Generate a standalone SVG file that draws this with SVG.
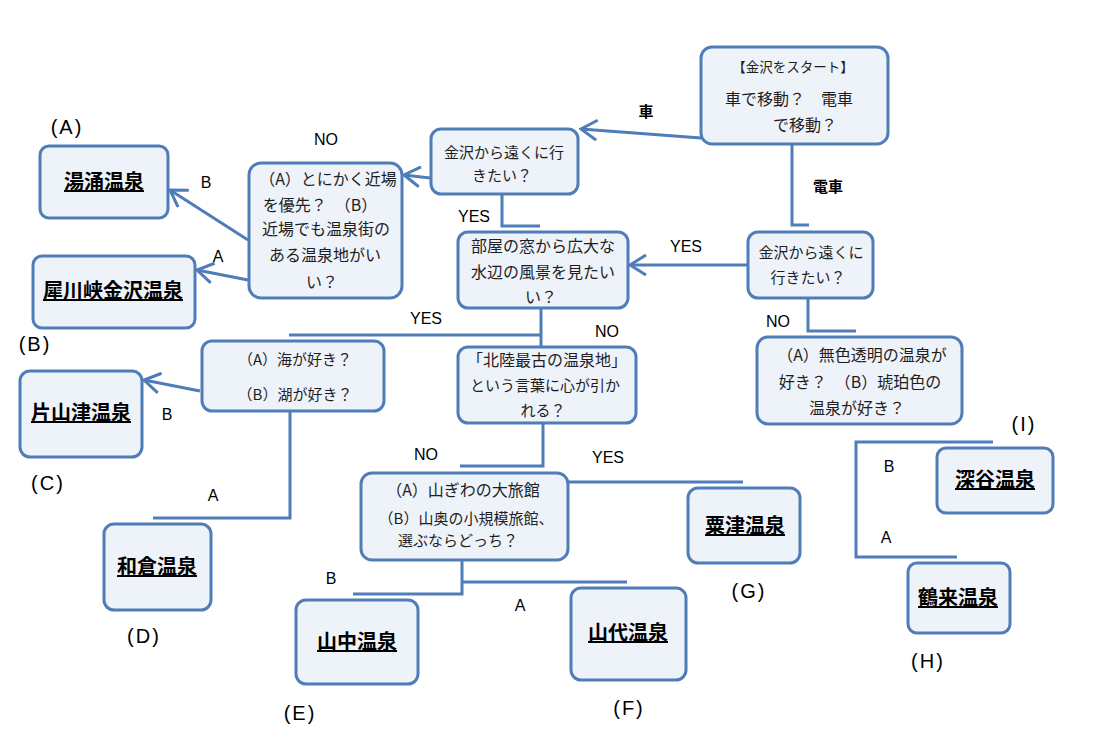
<svg xmlns="http://www.w3.org/2000/svg" width="1100" height="742" viewBox="0 0 1100 742">
<style>
.box{fill:#EEF2F9;stroke:#4F7DB8;stroke-width:3}
.ln{fill:none;stroke:#4F7DB8;stroke-width:3}
.q{font-family:"Noto Sans CJK JP","Noto Sans",sans-serif;font-size:15px;fill:#1e1e1e;text-anchor:middle}
.q16{font-size:16px}
.r{font-family:"Noto Sans CJK JP","Noto Sans",sans-serif;font-size:20px;font-weight:bold;fill:#000;text-anchor:middle;text-decoration:underline}
.lb{font-family:"Liberation Sans",Arial,sans-serif;font-size:16px;fill:#000;text-anchor:middle}
.lbj{font-family:"Noto Sans CJK JP",sans-serif;font-size:15px;font-weight:bold;fill:#000;text-anchor:middle}
.tag{font-family:"Liberation Sans",Arial,sans-serif;font-size:20px;fill:#000;text-anchor:middle;letter-spacing:2px}
</style>
<defs>
<marker id="arr" viewBox="0 0 22 22" refX="20" refY="11" markerWidth="22" markerHeight="22" markerUnits="userSpaceOnUse" orient="auto">
<path d="M4,1 L20,11 L4,21" fill="none" stroke="#4F7DB8" stroke-width="3"/>
</marker>
</defs>
<rect width="1100" height="742" fill="#fff"/>

<g id="start">
<rect class="box" x="701" y="47" width="187" height="97" rx="11"/>
<text class="q" x="793" y="72" style="font-size:13.5px">【金沢をスタート】</text>
<text class="q q16" x="789" y="105">車で移動？　電車</text>
<text class="q q16" x="805" y="131">で移動？</text>
</g>

<g id="q-car">
<rect class="box" x="431" y="129" width="147" height="65" rx="10"/>
<text class="q" x="504" y="158">金沢から遠くに行</text>
<text class="q" x="502" y="181">きたい？</text>
</g>

<g id="q-train">
<rect class="box" x="748" y="232" width="125" height="66" rx="10"/>
<text class="q" x="811" y="258">金沢から遠くに</text>
<text class="q" x="808" y="283">行きたい？</text>
</g>

<g id="q-near">
<rect class="box" x="249" y="163" width="153" height="135" rx="12"/>
<text class="q q16" x="328" y="185">（A）とにかく近場</text>
<text class="q q16" x="320" y="211">を優先？　（B）</text>
<text class="q q16" x="326" y="235">近場でも温泉街の</text>
<text class="q q16" x="325" y="261">ある温泉地がい</text>
<text class="q q16" x="322" y="288">い？</text>
</g>

<g id="q-water">
<rect class="box" x="458" y="232" width="170" height="76" rx="10"/>
<text class="q q16" x="543" y="252">部屋の窓から広大な</text>
<text class="q q16" x="543" y="278">水辺の風景を見たい</text>
<text class="q q16" x="541" y="303">い？</text>
</g>

<g id="q-sea">
<rect class="box" x="202" y="341" width="182" height="70" rx="10"/>
<text class="q" x="295" y="365">（A）海が好き？</text>
<text class="q" x="295" y="400">（B）湖が好き？</text>
</g>

<g id="q-oldest">
<rect class="box" x="458" y="347" width="178" height="76" rx="10"/>
<text class="q q16" x="547" y="366">「北陸最古の温泉地」</text>
<text class="q" x="545" y="391">という言葉に心が引か</text>
<text class="q" x="543" y="416">れる？</text>
</g>

<g id="q-ryokan">
<rect class="box" x="361" y="473" width="207" height="87" rx="11"/>
<text class="q q16" x="463" y="496">（A）山ぎわの大旅館</text>
<text class="q" x="466" y="524">（B）山奥の小規模旅館、</text>
<text class="q" x="458" y="546">選ぶならどっち？</text>
</g>

<g id="q-color">
<rect class="box" x="757" y="337" width="205" height="87" rx="11"/>
<text class="q q16" x="862" y="361">（A）無色透明の温泉が</text>
<text class="q q16" x="860" y="388">好き？　（B）琥珀色の</text>
<text class="q q16" x="857" y="414">温泉が好き？</text>
</g>

<g id="yuwaku">
<rect class="box" x="40" y="146" width="128" height="72" rx="9"/>
<text class="r" x="104" y="189">湯涌温泉</text>
<text class="tag" x="67" y="134">(A)</text>
</g>

<g id="saigawa">
<rect class="box" x="33" y="256" width="162" height="72" rx="9"/>
<text class="r" x="113" y="298">犀川峡金沢温泉</text>
<text class="tag" x="35" y="351">(B)</text>
</g>

<g id="katayamazu">
<rect class="box" x="20" y="371" width="122" height="86" rx="10"/>
<text class="r" x="81" y="420">片山津温泉</text>
<text class="tag" x="48" y="490">(C)</text>
</g>

<g id="wakura">
<rect class="box" x="104" y="524" width="107" height="86" rx="10"/>
<text class="r" x="157" y="574">和倉温泉</text>
<text class="tag" x="144" y="643">(D)</text>
</g>

<g id="yamanaka">
<rect class="box" x="296" y="600" width="122" height="84" rx="10"/>
<text class="r" x="357" y="649">山中温泉</text>
<text class="tag" x="300" y="720">(E)</text>
</g>

<g id="yamashiro">
<rect class="box" x="571" y="588" width="115" height="92" rx="10"/>
<text class="r" x="628" y="640">山代温泉</text>
<text class="tag" x="629" y="715">(F)</text>
</g>

<g id="awazu">
<rect class="box" x="688" y="488" width="112" height="75" rx="10"/>
<text class="r" x="745" y="533">粟津温泉</text>
<text class="tag" x="749" y="598">(G)</text>
</g>

<g id="tsurugi">
<rect class="box" x="908" y="563" width="102" height="70" rx="9"/>
<text class="r" x="958" y="605">鶴来温泉</text>
<text class="tag" x="928" y="668">(H)</text>
</g>

<g id="fukatani">
<rect class="box" x="937" y="448" width="116" height="65" rx="9"/>
<text class="r" x="995" y="487">深谷温泉</text>
<text class="tag" x="1024" y="431">(I)</text>
</g>

<g id="connectors">
<line class="ln" x1="701" y1="138" x2="581" y2="129" marker-end="url(#arr)"/>
<line class="ln" x1="430" y1="178" x2="404" y2="175" marker-end="url(#arr)"/>
<line class="ln" x1="248" y1="240" x2="170" y2="190" marker-end="url(#arr)"/>
<line class="ln" x1="248" y1="280" x2="197" y2="270" marker-end="url(#arr)"/>
<line class="ln" x1="200" y1="391" x2="144" y2="380" marker-end="url(#arr)"/>
<line class="ln" x1="747" y1="265" x2="630" y2="265" marker-end="url(#arr)"/>
<polyline class="ln" points="792,145 792,225 809,225"/>
<polyline class="ln" points="502,194 502,226 540,226"/>
<polyline class="ln" points="808,298 808,331 856,331"/>
<line class="ln" x1="541" y1="308" x2="541" y2="347"/>
<line class="ln" x1="289" y1="335" x2="541" y2="335"/>
<polyline class="ln" points="290,411 290,518 153,518"/>
<polyline class="ln" points="543,423 543,466 460,466"/>
<line class="ln" x1="568" y1="482" x2="743" y2="482"/>
<polyline class="ln" points="462,560 462,594 353,594"/>
<line class="ln" x1="462" y1="582" x2="627" y2="582"/>
<polyline class="ln" points="993,442 856,442 856,557 957,557"/>
<text class="lbj" x="646" y="117">車</text>
<text class="lbj" x="828" y="192">電車</text>
<text class="lb" x="326" y="145">NO</text>
<text class="lb" x="474" y="222">YES</text>
<text class="lb" x="686" y="252">YES</text>
<text class="lb" x="426" y="324">YES</text>
<text class="lb" x="607" y="337">NO</text>
<text class="lb" x="778" y="327">NO</text>
<text class="lb" x="206" y="188">B</text>
<text class="lb" x="218" y="262">A</text>
<text class="lb" x="167" y="420">B</text>
<text class="lb" x="213" y="501">A</text>
<text class="lb" x="426" y="460">NO</text>
<text class="lb" x="608" y="463">YES</text>
<text class="lb" x="331" y="584">B</text>
<text class="lb" x="520" y="611">A</text>
<text class="lb" x="889" y="472">B</text>
<text class="lb" x="886" y="543">A</text>
</g>
</svg>
